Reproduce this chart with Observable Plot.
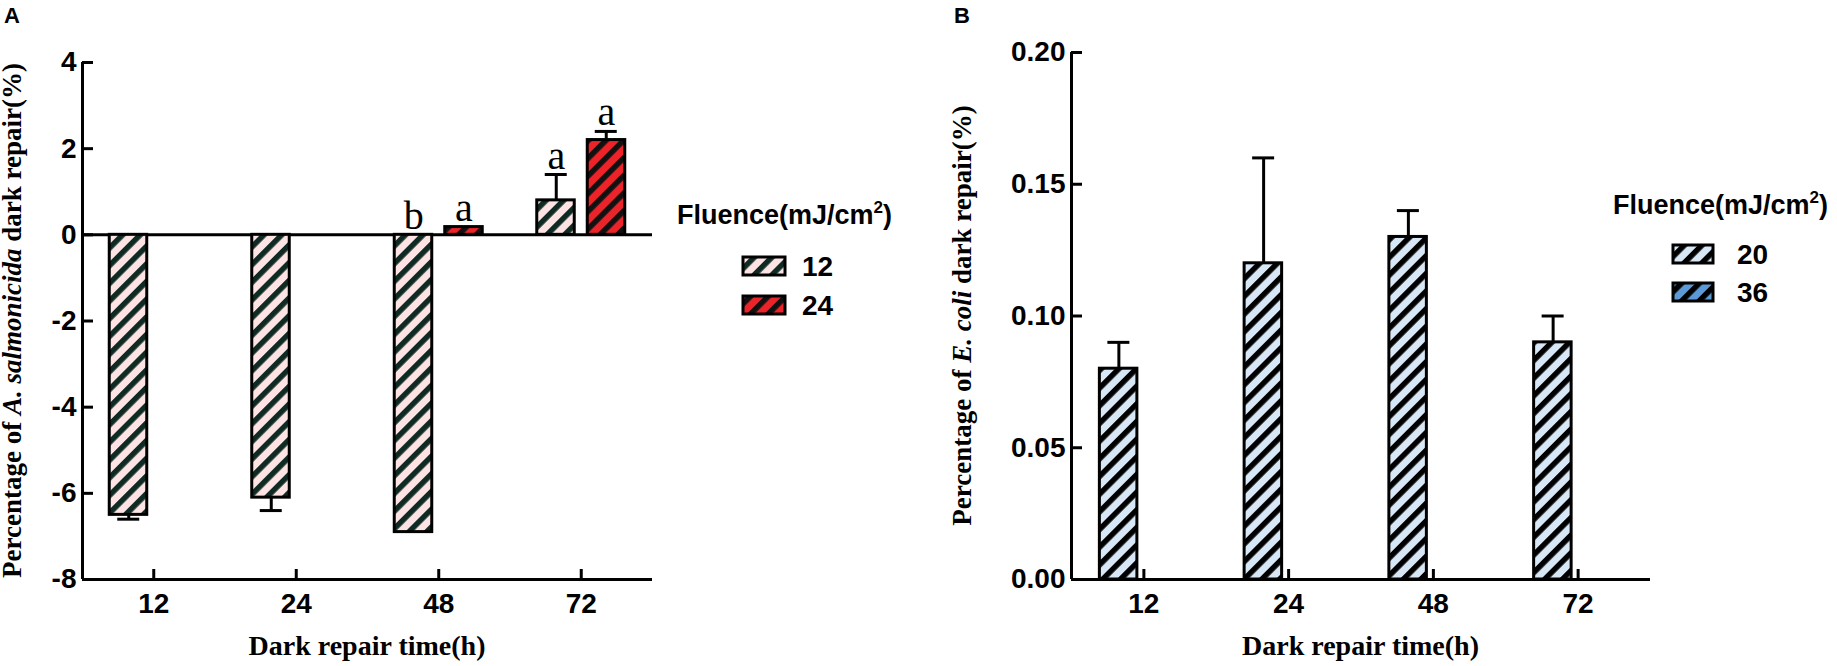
<!DOCTYPE html>
<html><head><meta charset="utf-8">
<script src="https://cdn.jsdelivr.net/npm/d3@7"></script>
<script src="https://cdn.jsdelivr.net/npm/@observablehq/plot@0.6"></script>
<style>
body{margin:0;background:#fff;}
#wrap{position:relative;width:1837px;height:666px;display:flex;background:#fff;}
svg{display:block;}
</style></head><body><div id="wrap"></div>
<script>
// ---- data ----
const times = ["12", "24", "48", "72"];
const fluenceA = ["12", "24"];
const fluenceB = ["20", "36"];
const a12 = [-6.5, -6.1, -6.9, 0.8];
const a12sd = [0.1, 0.3, 0, 0.6];
const a12letters = ["", "", "b", "a"];
const a24 = [null, null, 0.18, 2.2];
const a24sd = [null, null, 0, 0.2];
const a24letters = ["", "", "a", "a"];
const b20 = [0.08, 0.12, 0.13, 0.09];
const b20sd = [0.01, 0.04, 0.01, 0.01];
const b36 = [null, null, null, null];
const yTicksA = [-8, -6, -4, -2, 0, 2, 4];
const yTicksB = [0, 0.05, 0.10, 0.15, 0.20];

const SANS = "Liberation Sans, Arial, sans-serif";
const SERIF = "Liberation Serif, Times New Roman, serif";

function rows(vals, sds, letters) {
  return times.map((t, i) => {
    const v = vals[i], sd = sds[i];
    if (v == null) return null;
    const end = v < 0 ? v - (sd || 0) : v + (sd || 0);
    return {time: t, v, sd, end, letter: letters ? letters[i] : "", ly: Math.max(0, end)};
  }).filter(d => d);
}

function patternDefs(svg, id, bg, fg) {
  let defs = svg.select("defs");
  if (defs.empty()) defs = svg.insert("defs", ":first-child");
  const p = defs.append("pattern").attr("id", id).attr("patternUnits", "userSpaceOnUse")
    .attr("width", 12.5).attr("height", 12.5).attr("patternTransform", "rotate(45)");
  p.append("rect").attr("width", 12.5).attr("height", 12.5).attr("fill", bg);
  p.append("rect").attr("width", 5.5).attr("height", 12.5).attr("fill", fg);
}

function panel(cfg) {
  const pw = cfg.width - cfg.marginLeft - cfg.marginRight;
  const ph = cfg.height - cfg.marginTop - cfg.marginBottom;
  const bw = pw / times.length;
  const half = bw / 2;
  const marks = [];
  // axis lines
  marks.push(Plot.ruleY([cfg.yDomain[0]], {stroke: "#000", strokeWidth: 3}));
  marks.push(Plot.ruleX([times[0]], {x: d => d, dx: -half, stroke: "#000", strokeWidth: 3}));
  if (cfg.zeroLine) marks.push(Plot.ruleY([0], {stroke: "#000", strokeWidth: 3}));
  // inward ticks
  marks.push(Plot.ruleY(cfg.yTicks, {y: d => d, insetRight: pw - 11, stroke: "#000", strokeWidth: 3}));
  marks.push(Plot.ruleX(times, {x: d => d, insetTop: ph - 10, stroke: "#000", strokeWidth: 3}));
  // bars + error bars
  const off = [-25, 25];
  cfg.series.forEach((s, k) => {
    const data = rows(s.values, s.sd, s.letters);
    const inL = k === 0 ? half - 44 : half + 6.5;
    const inR = k === 0 ? half + 6.5 : half - 44;
    const cL = half + off[k] - 11, cR = bw - (half + off[k] + 11);
    const err = data.filter(d => d.sd > 0);
    marks.push(Plot.ruleX(err, {x: "time", y1: "v", y2: "end", dx: off[k], stroke: "#000", strokeWidth: 3}));
    marks.push(Plot.tickY(err, {x: "time", y: "end", insetLeft: cL, insetRight: cR, stroke: "#000", strokeWidth: 3}));
    marks.push(Plot.barY(data, {x: "time", y: "v", fill: `url(#${s.id})`, stroke: "#000", strokeWidth: 3,
      insetLeft: inL, insetRight: inR}));
    marks.push(Plot.text(data.filter(d => d.letter), {x: "time", y: "ly", text: "letter", dx: off[k], dy: -6,
      lineAnchor: "bottom", fontFamily: SERIF, fontSize: 40, fill: "#000"}));
  });
  // axes
  marks.push(Plot.axisY(cfg.yTicks, {tickSize: 0, tickPadding: 6, tickFormat: cfg.fmt, label: null,
    fontSize: 28, fontWeight: "bold", fontFamily: SANS, fill: "#000"}));
  marks.push(Plot.axisX({tickSize: 0, tickPadding: 14, label: null,
    fontSize: 28, fontWeight: "bold", fontFamily: SANS, fill: "#000"}));

  const chart = Plot.plot({
    width: cfg.width, height: cfg.height,
    marginLeft: cfg.marginLeft, marginRight: cfg.marginRight,
    marginTop: cfg.marginTop, marginBottom: cfg.marginBottom,
    style: {background: "#fff", overflow: "visible"},
    x: {type: "band", domain: times, padding: 0, round: false},
    y: {domain: cfg.yDomain},
    marks
  });
  const svg = d3.select(chart);
  cfg.series.forEach(s => patternDefs(svg, s.id, s.bg, s.fg));
  // panel letter
  svg.append("text").attr("x", cfg.tag.x).attr("y", 23).attr("text-anchor", "start")
    .attr("font-family", SANS).attr("font-weight", "bold")
    .attr("font-size", 22).attr("fill", "#000").text(cfg.tag.t);
  // x title
  svg.append("text").attr("x", cfg.marginLeft + pw / 2).attr("y", 655).attr("text-anchor", "middle")
    .attr("font-family", SERIF).attr("font-weight", "bold").attr("font-size", 28).attr("fill", "#000")
    .text("Dark repair time(h)");
  // y title
  const yt = svg.append("text").attr("transform", "rotate(-90)")
    .attr("x", -(cfg.marginTop + ph / 2)).attr("y", cfg.yTitleX).attr("text-anchor", "middle")
    .attr("font-family", SERIF).attr("font-weight", "bold").attr("font-size", 27).attr("fill", "#000");
  cfg.yTitle.forEach(([t, it]) => yt.append("tspan").attr("font-style", it ? "italic" : "normal").text(t));
  // legend
  const L = cfg.legend;
  const lt = svg.append("text").attr("x", L.x).attr("y", L.y).attr("text-anchor", "start")
    .attr("font-family", SANS).attr("font-weight", "bold")
    .attr("font-size", 27).attr("fill", "#000");
  lt.append("tspan").text("Fluence(mJ/cm");
  lt.append("tspan").attr("font-size", 17).attr("dy", -11).text("2");
  lt.append("tspan").attr("dy", 11).text(")");
  cfg.series.forEach((s, k) => {
    svg.append("rect").attr("x", L.sx).attr("y", L.sy + k * L.step).attr("width", L.sw).attr("height", 18)
      .attr("fill", `url(#${s.id})`).attr("stroke", "#000").attr("stroke-width", 3);
    svg.append("text").attr("x", L.tx).attr("y", L.sy + 19 + k * L.step).attr("text-anchor", "start")
      .attr("font-family", SANS)
      .attr("font-weight", "bold").attr("font-size", 28).attr("fill", "#000").text(s.name);
  });
  return chart;
}

const wrap = document.getElementById("wrap");
wrap.appendChild(panel({
  width: 918, height: 666, marginLeft: 82, marginRight: 266, marginTop: 62, marginBottom: 87,
  yDomain: [-8, 4], yTicks: yTicksA, fmt: d => String(d), zeroLine: true,
  series: [
    {id: "hA12", name: fluenceA[0], values: a12, sd: a12sd, letters: a12letters, bg: "#fde3e3", fg: "#0e2a22"},
    {id: "hA24", name: fluenceA[1], values: a24, sd: a24sd, letters: a24letters, bg: "#ec2328", fg: "#111"}
  ],
  tag: {x: 4, t: "A"},
  yTitleX: 21,
  yTitle: [["Percentage of ", false], ["A. salmonicida", true], [" dark repair(%)", false]],
  legend: {x: 677, y: 224, sx: 743, sy: 257, step: 39, sw: 42, tx: 802}
}));
wrap.appendChild(panel({
  width: 919, height: 666, marginLeft: 153, marginRight: 187, marginTop: 52, marginBottom: 87,
  yDomain: [0, 0.2], yTicks: yTicksB, fmt: d => d.toFixed(2), zeroLine: false,
  series: [
    {id: "hB20", name: fluenceB[0], values: b20, sd: b20sd, letters: null, bg: "#d8e7f6", fg: "#000"},
    {id: "hB36", name: fluenceB[1], values: b36, sd: b36, letters: null, bg: "#5b9ad7", fg: "#000"}
  ],
  tag: {x: 36, t: "B"},
  yTitleX: 53,
  yTitle: [["Percentage of ", false], ["E. coli", true], [" dark repair(%)", false]],
  legend: {x: 695, y: 214, sx: 755, sy: 245, step: 38, sw: 40, tx: 819}
}));
</script></body></html>
